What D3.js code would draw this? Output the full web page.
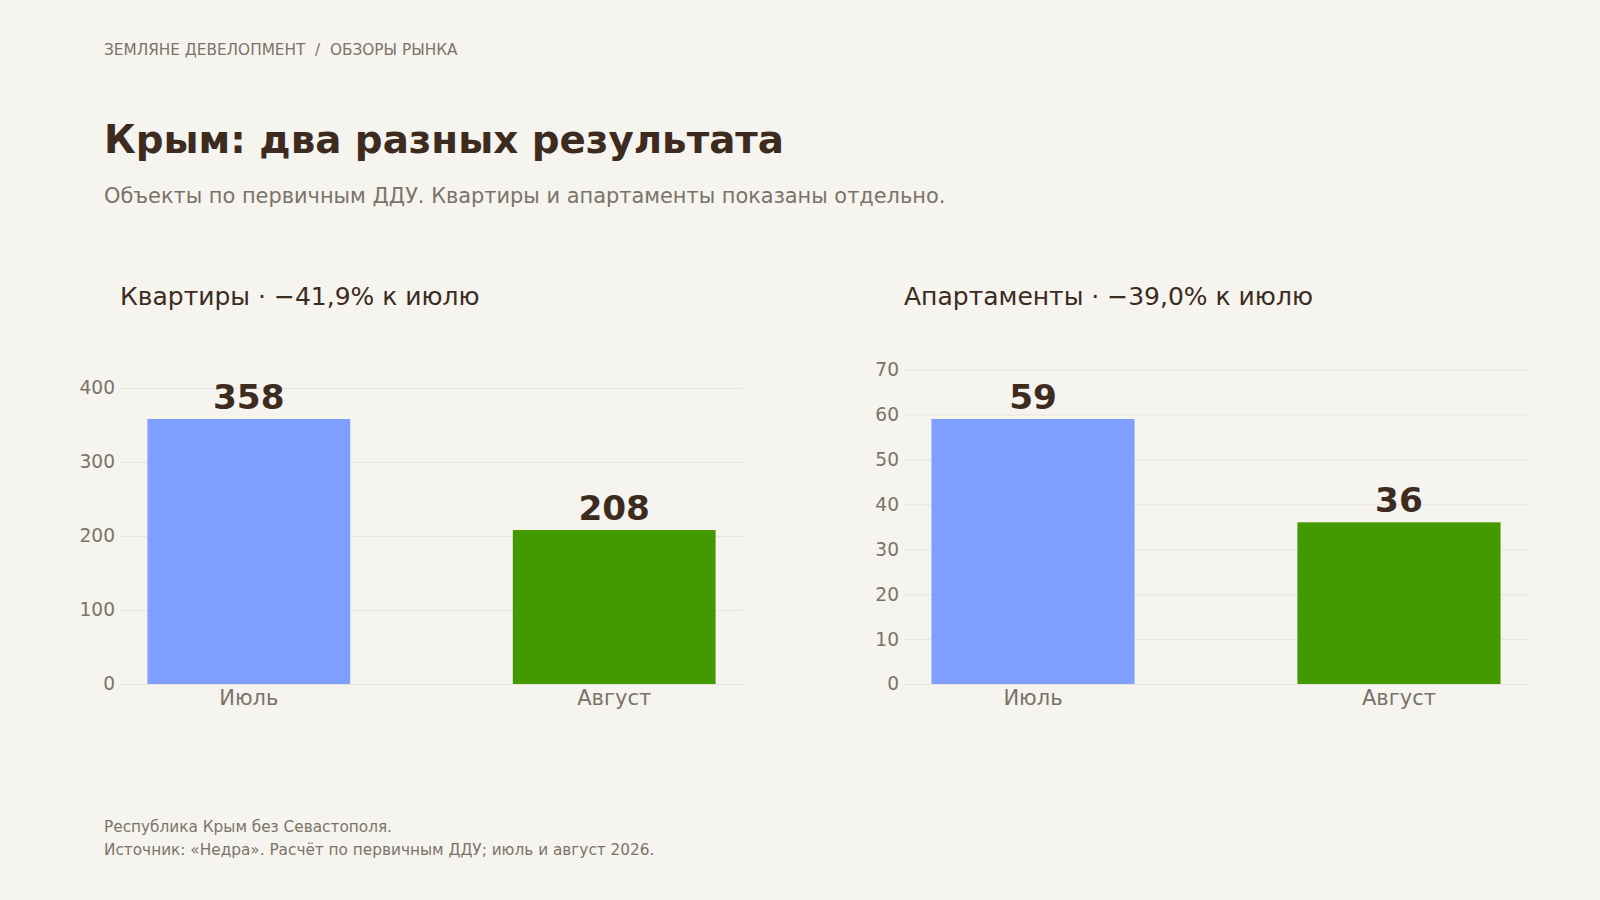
<!DOCTYPE html>
<html>
<head>
<meta charset="utf-8">
<script src="https://cdn.jsdelivr.net/npm/d3@7"></script>
<style>
  html, body { margin: 0; padding: 0; background: #f5f4ee; }
  svg { display: block; font-family: "DejaVu Sans", sans-serif; }
</style>
</head>
<body>
<svg id="chart" width="1600" height="900"></svg>
<script>
const categories = ["Июль", "Август"];
const flatsValues = [358, 208];
const apartValues = [59, 36];
const flatsTicks = [0, 100, 200, 300, 400];
const apartTicks = [0, 10, 20, 30, 40, 50, 60, 70];
const barColors = ["#7f9fff", "#429900"];
const panelTitles = ["Квартиры · −41,9% к июлю", "Апартаменты · −39,0% к июлю"];
const breadcrumb = "ЗЕМЛЯНЕ ДЕВЕЛОПМЕНТ  /  ОБЗОРЫ РЫНКА";
const titleText = "Крым: два разных результата";
const subtitleText = "Объекты по первичным ДДУ. Квартиры и апартаменты показаны отдельно.";
const footerLines = ["Республика Крым без Севастополя.", "Источник: «Недра». Расчёт по первичным ДДУ; июль и август 2026."];

const DARK = "#3d2b1f", GREY = "#7b7369", GRID = "#e7e4dd";
const svg = d3.select("#chart");
svg.append("rect").attr("width", 1600).attr("height", 900).attr("fill", "#f5f4ee");

svg.append("text").attr("x", 104).attr("y", 55).attr("font-size", 15.3).attr("fill", GREY)
  .attr("xml:space", "preserve").style("white-space", "pre").text(breadcrumb);
svg.append("text").attr("x", 104).attr("y", 153).attr("font-size", 38.8).attr("font-weight", "bold")
  .attr("fill", DARK).text(titleText);
svg.append("text").attr("x", 104).attr("y", 203).attr("font-size", 20.9).attr("fill", GREY).text(subtitleText);
footerLines.forEach((t, i) => {
  svg.append("text").attr("x", 104).attr("y", 832 + i * 23).attr("font-size", 15.3).attr("fill", GREY).text(t);
});

function drawPanel(x0, x1, values, ticks, title) {
  const g = svg.append("g");
  const yTop = 366, yBot = 684;
  const y = d3.scaleLinear().domain([0, d3.max(values) * 1.2]).range([yBot, yTop]);
  const x = d3.scaleBand().domain(categories).range([x0, x1]).paddingInner(0.445).paddingOuter(0.075);

  g.append("text").attr("x", x0).attr("y", 305).attr("font-size", 25).attr("fill", DARK).text(title);

  const yAxis = d3.axisLeft(y).tickValues(ticks).tickSize(-(x1 - x0)).tickPadding(5);
  const ax = g.append("g").attr("transform", `translate(${x0},0)`).call(yAxis);
  ax.select(".domain").remove();
  ax.selectAll(".tick line").attr("stroke", GRID).attr("stroke-width", 1);
  ax.selectAll(".tick text").attr("fill", GREY).attr("font-size", 18.6)
    .attr("font-family", "DejaVu Sans, sans-serif");

  g.selectAll("rect.bar").data(values).join("rect").attr("class", "bar")
    .attr("x", (d, i) => x(categories[i])).attr("width", x.bandwidth())
    .attr("y", d => y(d)).attr("height", d => yBot - y(d))
    .attr("fill", (d, i) => barColors[i]);

  g.selectAll("text.val").data(values).join("text").attr("class", "val")
    .attr("x", (d, i) => x(categories[i]) + x.bandwidth() / 2).attr("y", d => y(d) - 10)
    .attr("text-anchor", "middle").attr("font-size", 34.3).attr("font-weight", "bold")
    .attr("fill", DARK).text(d => d);

  g.selectAll("text.cat").data(categories).join("text").attr("class", "cat")
    .attr("x", d => x(d) + x.bandwidth() / 2).attr("y", 705)
    .attr("text-anchor", "middle").attr("font-size", 21).attr("fill", GREY).text(d => d);
}

drawPanel(120, 743, flatsValues, flatsTicks, panelTitles[0]);
drawPanel(904, 1528, apartValues, apartTicks, panelTitles[1]);
</script>
</body>
</html>
